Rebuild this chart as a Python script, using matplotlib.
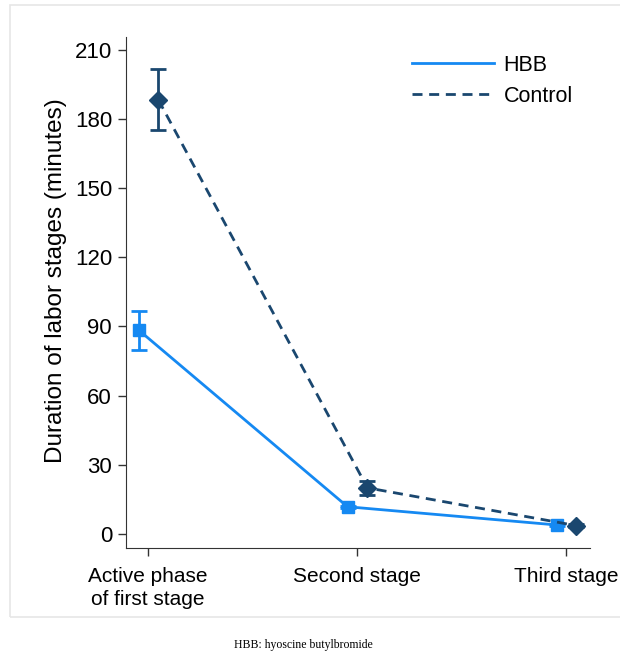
import matplotlib.pyplot as plt
from matplotlib.patches import Rectangle

plt.rcParams['font.family'] = ['Liberation Sans', 'DejaVu Sans']

categories = ["Active phase\nof first stage", "Second stage", "Third stage"]
hbb_mean = [88.5, 11.8, 3.9]
hbb_lo = [79.8, 11.3, 3.6]
hbb_hi = [96.8, 12.3, 4.2]
ctrl_mean = [188.3, 20.0, 3.6]
ctrl_lo = [175.3, 17.0, 3.0]
ctrl_hi = [201.5, 23.0, 4.2]
yticks = [0, 30, 60, 90, 120, 150, 180, 210]

hbb_col = "#1589f2"
ctrl_col = "#1a476f"

fig = plt.figure(figsize=(6.2, 6.52), dpi=100)
fig.patches.append(Rectangle((10/620, 1-617/652), 612/620, 612/652, transform=fig.transFigure,
                             fill=False, edgecolor="#e6e6e6", lw=1.2))
ax = fig.add_axes([126/620, 1-548/652, 464/620, 511/652])

x = list(range(len(categories)))
xh = [i - 0.045 for i in x]
xc = [i + 0.05 for i in x]

ax.plot(xh, hbb_mean, color=hbb_col, lw=2, marker="s", ms=8, label="HBB", zorder=3)
ax.errorbar(xh, hbb_mean, yerr=[[m - l for m, l in zip(hbb_mean, hbb_lo)], [h - m for m, h in zip(hbb_mean, hbb_hi)]],
            fmt="none", ecolor=hbb_col, elinewidth=2, capsize=6, capthick=2, zorder=3)
ax.plot(xc, ctrl_mean, color=ctrl_col, lw=2, ls=(0, (3.6, 2.4)), marker="D", ms=9, label="Control", zorder=4)
ax.errorbar(xc, ctrl_mean, yerr=[[m - l for m, l in zip(ctrl_mean, ctrl_lo)], [h - m for m, h in zip(ctrl_mean, ctrl_hi)]],
            fmt="none", ecolor=ctrl_col, elinewidth=2, capsize=6, capthick=2, zorder=4)

ax.set_xlim(-0.105, 2.115)
ax.set_ylim(-6.1, 215.6)
ax.set_yticks(yticks)
ax.set_xticks(x)
ax.set_xticklabels(categories, fontsize=15, linespacing=1.25)
ax.tick_params(axis="y", labelsize=16, length=6, width=1, color="#333333", pad=4)
ax.tick_params(axis="x", length=6, width=1, color="#333333", pad=8)
ax.spines["top"].set_visible(False)
ax.spines["right"].set_visible(False)
ax.spines["left"].set_color("#333333")
ax.spines["bottom"].set_color("#333333")
ax.set_ylabel("Duration of labor stages (minutes)", fontsize=17.5, va="center")
ax.yaxis.set_label_coords(-0.151, 0.524)

ax.legend(loc="upper right", bbox_to_anchor=(1.005, 1.003), frameon=False, fontsize=15.5,
          handlelength=3.8, handletextpad=0.45, labelspacing=0.45)
leg = ax.get_legend()
for h in leg.legend_handles:
    h.set_marker("")

fig.text(303/620, 1-645/652, "HBB: hyoscine butylbromide", family="Liberation Serif",
         fontsize=8.5, ha="center", va="center")

fig.savefig("out.png", dpi=100, facecolor="white")
